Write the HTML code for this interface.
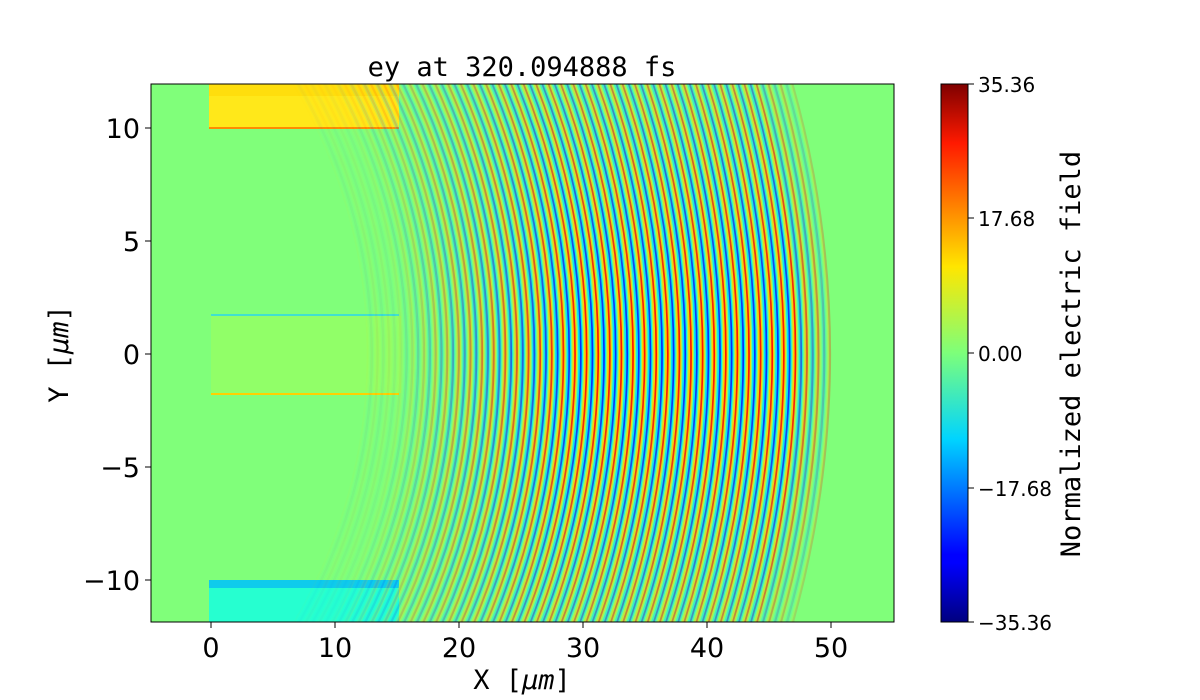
<!DOCTYPE html>
<html><head><meta charset="utf-8"><style>
html,body{margin:0;background:#fff;width:1200px;height:700px;overflow:hidden}
svg{display:block}
svg text{font-family:"DejaVu Sans",sans-serif;fill:#000}
.m{font-family:"DejaVu Sans Mono","Liberation Mono",monospace}
</style></head><body>
<svg id="s" width="1200" height="700" xmlns="http://www.w3.org/2000/svg">
<defs>
<clipPath id="c"><rect x="151" y="84" width="743" height="538"/></clipPath>
<linearGradient id="vg" x1="0" y1="0" x2="0" y2="1">
<stop offset="0" stop-color="#fff" stop-opacity="0.5"/>
<stop offset="0.3" stop-color="#fff" stop-opacity="0.85"/>
<stop offset="0.5" stop-color="#fff" stop-opacity="1"/>
<stop offset="0.7" stop-color="#fff" stop-opacity="0.85"/>
<stop offset="1" stop-color="#fff" stop-opacity="0.5"/>
</linearGradient>
<mask id="mk"><rect x="151" y="84" width="743" height="538" fill="url(#vg)"/></mask>
<linearGradient id="jet" x1="0" y1="1" x2="0" y2="0">
<stop offset="0" stop-color="#00007f"/><stop offset="0.11" stop-color="#0000ff"/>
<stop offset="0.125" stop-color="#0000ff"/><stop offset="0.34" stop-color="#00d4ff"/>
<stop offset="0.5" stop-color="#7dff7a"/><stop offset="0.66" stop-color="#ffe600"/>
<stop offset="0.89" stop-color="#ff1a00"/><stop offset="1" stop-color="#7f0000"/>
</linearGradient>
</defs>
<g clip-path="url(#c)">
<rect x="151" y="84" width="743" height="538" fill="#80ff7a"/>
<rect x="209" y="84" width="190" height="44" fill="#ffe81a"/>
<rect x="209" y="84" width="190" height="12" fill="#ffd400" opacity="0.5"/>
<rect x="209" y="580" width="190" height="42" fill="#26ffd0"/>
<rect x="209" y="580" width="190" height="8" fill="#00a8ff" opacity="0.6"/>
<line x1="209" y1="128" x2="399" y2="128" stroke="#ff8c00" stroke-width="2"/>
<line x1="211" y1="315" x2="399" y2="315" stroke="#40e0d0" stroke-width="2"/>
<line x1="211" y1="394" x2="399" y2="394" stroke="#ffd000" stroke-width="2"/>
<rect x="211" y="316" width="190" height="77" fill="#b8ff40" opacity="0.3"/>
<g id="w" mask="url(#mk)"></g>
</g>
<rect x="151" y="84" width="743" height="538" fill="none" stroke="#000" stroke-width="1"/>
<g font-size="27" text-anchor="middle">
<text x="211" y="657">0</text><text x="335" y="657">10</text><text x="459" y="657">20</text>
<text x="583" y="657">30</text><text x="707" y="657">40</text><text x="831" y="657">50</text>
</g>
<g stroke="#000">
<line x1="211" y1="622" x2="211" y2="628"/><line x1="335" y1="622" x2="335" y2="628"/><line x1="459" y1="622" x2="459" y2="628"/><line x1="583" y1="622" x2="583" y2="628"/><line x1="707" y1="622" x2="707" y2="628"/><line x1="831" y1="622" x2="831" y2="628"/>
<line x1="145" y1="128" x2="151" y2="128"/><line x1="145" y1="241" x2="151" y2="241"/><line x1="145" y1="354" x2="151" y2="354"/><line x1="145" y1="467" x2="151" y2="467"/><line x1="145" y1="580" x2="151" y2="580"/>
</g>
<g font-size="27" text-anchor="end">
<text x="140" y="138">10</text><text x="140" y="251">5</text><text x="140" y="364">0</text><text x="140" y="477">−5</text><text x="140" y="590">−10</text>
</g>
<text class="m" x="522" y="76" font-size="27" text-anchor="middle">ey at 320.094888 fs</text>
<text class="m" x="522" y="689" font-size="27" text-anchor="middle">X [<tspan font-style="italic">μm</tspan>]</text>
<text class="m" x="68" y="354" font-size="27" text-anchor="middle" transform="rotate(-90 68 354)">Y [<tspan font-style="italic">μm</tspan>]</text>
<rect x="941" y="84" width="27" height="538" fill="url(#jet)" stroke="#000" stroke-width="1"/>
<g stroke="#000"><line x1="968" y1="84" x2="974" y2="84"/><line x1="968" y1="218" x2="974" y2="218"/><line x1="968" y1="353" x2="974" y2="353"/><line x1="968" y1="488" x2="974" y2="488"/><line x1="968" y1="622" x2="974" y2="622"/></g>
<g font-size="20"><text x="978" y="92">35.36</text><text x="978" y="226">17.68</text><text x="978" y="361">0.00</text><text x="978" y="496">−17.68</text><text x="978" y="630">−35.36</text></g>
<text class="m" x="1080" y="354" font-size="27" text-anchor="middle" transform="rotate(-90 1080 354)">Normalized electric field</text>
</svg>
<script>
var g=document.getElementById('w'),ns='http://www.w3.org/2000/svg';
var R=990,cx0=831-R,P=11.6;
var cols=['#ff1500','#ffd000',null,'#00e0ff','#0030ff','#00e0ff',null,'#ffd000'];
for(var i=0;i<40;i++){
  var xf=831-i*P, u=(xf-211)/620*50, a;
  if(u>48)a=0.3+(50-u)*0.2;else if(u>30)a=1;else if(u>20)a=1-(30-u)*0.06;else a=Math.max(0.05,0.4-(20-u)*0.08);
  for(var k=0;k<8;k++){
    if(!cols[k])continue;
    var c=document.createElementNS(ns,'circle');
    c.setAttribute('cx',cx0);c.setAttribute('cy',354);c.setAttribute('r',R-i*P-k*P/8-1);
    c.setAttribute('fill','none');c.setAttribute('stroke',cols[k]);
    c.setAttribute('stroke-width',(k==0||k==4)?2.2:1.7);c.setAttribute('opacity',a);
    g.appendChild(c);
  }
}
</script>
</body></html>
